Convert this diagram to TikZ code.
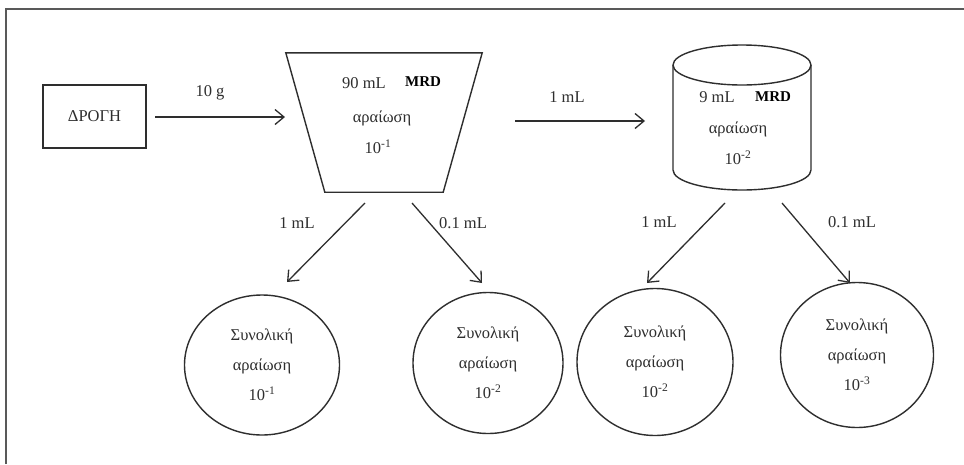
\documentclass[tikz,border=0pt]{standalone}
\usepackage{fontspec}
\setmainfont{Liberation Serif}
\usetikzlibrary{arrows.meta,shapes.geometric}
\definecolor{ink}{HTML}{2E2E2E}
\tikzset{
  lbl/.style={font=\fontsize{16.5}{18}\selectfont, text=ink, inner sep=0pt},
  bold/.style={font=\fontsize{15}{18}\selectfont\bfseries, text=black, inner sep=0pt},
  oval/.style={ellipse, draw=ink, line width=1.4pt, align=center, inner sep=0pt,
     font=\fontsize{16.5}{30}\selectfont, text=ink},
  arr/.style={draw=ink, line width=1.3pt, -{Straight Barb[length=9pt,width=15pt,line width=1.3pt]}},
  shp/.style={draw=ink, line width=1.4pt},
  ghost/.style={draw=none, inner sep=0pt, rectangle}
}
\begin{document}
\begin{tikzpicture}[x=1pt,y=-1pt]
\useasboundingbox (0,0) rectangle (964,464);
\fill[white] (0,0) rectangle (964,464);
% frame
\draw[line width=1.8pt, black!65] (6,464) -- (6,9) -- (964,9);

% source box
\node[shp, rectangle, minimum width=103pt, minimum height=63pt, inner sep=0pt,
      font=\fontsize{16.5}{18}\selectfont, text=ink] (drogi) at (94.5,116.5) {ΔΡΟΓΗ};

% trapezoid
\node[ghost, minimum width=196pt, minimum height=139pt] (trap) at (384,122.5) {};
\draw[shp] (trap.north west) -- (trap.north east) -- ([xshift=-39pt]trap.south east)
   -- ([xshift=39pt]trap.south west) -- cycle;
\node[lbl] (t90) at (364,83) {90 mL};
\node[bold] (tmrd) at (423,82) {MRD};
\node[lbl] (tar) at (382,118) {αραίωση};
\node[lbl] (tdil) at (378,147) {10\textsuperscript{-1}};

% cylinder
\node[ghost, minimum width=138pt, minimum height=145pt] (cyl) at (742,117.5) {};
\draw[shp] (742,65) ellipse [x radius=69pt, y radius=20pt];
\draw[shp] (673,65) -- (673,170) arc[start angle=180, end angle=360, x radius=69pt, y radius=20pt] -- (811,65);
\node[lbl] (c9) at (717,97) {9 mL};
\node[bold] (cmrd) at (773,97) {MRD};
\node[lbl] (car) at (738,129) {αραίωση};
\node[lbl] (cdil) at (738,158) {10\textsuperscript{-2}};

% result ovals
\node[oval, minimum width=155pt, minimum height=140pt] (o1) at (262,365) {Συνολική\\αραίωση\\10\textsuperscript{-1}};
\node[oval, minimum width=150pt, minimum height=141pt] (o2) at (488,363) {Συνολική\\αραίωση\\10\textsuperscript{-2}};
\node[oval, minimum width=156pt, minimum height=147pt] (o3) at (655,362) {Συνολική\\αραίωση\\10\textsuperscript{-2}};
\node[oval, minimum width=153pt, minimum height=145pt] (o4) at (857,355) {Συνολική\\αραίωση\\10\textsuperscript{-3}};

% arrow end points
\coordinate (a1s) at (155,117);
\coordinate (a1e) at (285,117);
\coordinate (a2s) at (515,121);
\coordinate (a2e) at (645,121);
\coordinate (d1s) at (365,203);
\coordinate (d1e) at (287,282);
\coordinate (d2s) at (412,203);
\coordinate (d2e) at (482,283);
\coordinate (d3s) at (725,203);
\coordinate (d3e) at (647,283);
\coordinate (d4s) at (782,203);
\coordinate (d4e) at (850,283);

\draw[arr] (a1s) -- (a1e);
\draw[arr] (a2s) -- (a2e);
\draw[arr] (d1s) -- (d1e);
\draw[arr] (d2s) -- (d2e);
\draw[arr] (d3s) -- (d3e);
\draw[arr] (d4s) -- (d4e);

% labels
\node[lbl] (l10g) at (210,93) {10 g};
\node[lbl] (l1ml) at (567,97) {1 mL};
\node[lbl] (ld1) at (297,223) {1 mL};
\node[lbl] (ld2) at (463,223) {0.1 mL};
\node[lbl] (ld3) at (659,222) {1 mL};
\node[lbl] (ld4) at (852,222) {0.1 mL};
\end{tikzpicture}
\end{document}
